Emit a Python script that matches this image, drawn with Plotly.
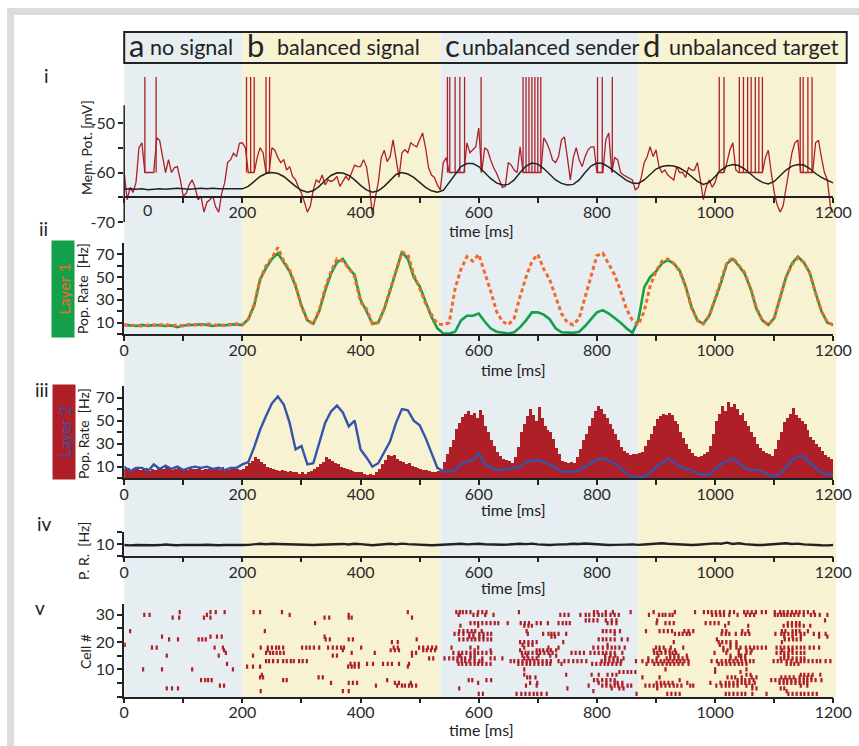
import plotly.graph_objects as go

W, H = 859, 746
FONT = "Lato, 'Open Sans', Arial, sans-serif"
INK = "#222222"
RED = "#ae1f28"
BLUE = "#3553a8"
GREEN = "#13a04b"
ORANGE = "#f2692a"
PALE_BLUE = "#e7eef2"
PALE_YELLOW = "#f7f2d2"
FRAME_GRAY = "#dcdcde"

# ---------------------------------------------------------------- data
region_letters = ["a", "b", "c", "d"]
region_titles = ["no signal", "balanced signal", "unbalanced sender", "unbalanced target"]
region_edges_ms = [0, 200, 535, 870, 1205]
region_colors = [PALE_BLUE, PALE_YELLOW, PALE_BLUE, PALE_YELLOW]

x_ticks = [0, 200, 400, 600, 800, 1000, 1200]
mem_ticks = [-70, -60, -50]

t_fine = [5 * i for i in range(241)]      # 5 ms sampling grid
t_coarse = [10 * i for i in range(121)]   # 10 ms sampling grid
hist_bin_ms = 5

# (i) membrane potential of one cell [mV], 5 ms samples
mem_pot = [
    -60, -65.5, -63, -64, -62, -55, -54, -60, -60, -60,
    -60, -53, -53.5, -56.8, -60, -57.4, -60, -59, -58.8, -61.5,
    -64.8, -64.2, -62.5, -61.5, -63, -65.5, -64.8, -68, -66, -65.5,
    -64.8, -67, -68, -64.2, -62.1, -58, -57.4, -56.1, -56.8, -54.1,
    -54, -55, -60, -60, -60, -57, -55, -56, -60, -60,
    -55, -55.5, -57, -58, -57.4, -59.5, -58.8, -60.8, -61.5, -63,
    -64.2, -66, -68, -66.8, -63.5, -61.5, -62, -60.5, -62.5, -61.5,
    -61.8, -61.5, -60.8, -62.8, -61.8, -60.8, -61.5, -60.1, -58.5, -58.8,
    -58.8, -57.4, -58.8, -62.8, -68.5, -65, -62, -57, -55.5, -57.8,
    -56.8, -53.4, -57.4, -61, -56, -55.4, -56, -54, -54.5, -54.8,
    -53.4, -52, -55, -59, -60.5, -61, -62.5, -63.5, -58, -57,
    -60, -60, -60, -60, -60, -60, -54, -56, -55.4, -54.8,
    -51, -60, -55, -55.5, -57.4, -59, -60.1, -61.5, -63, -62.8,
    -58, -58.5, -59.5, -60, -54.8, -60, -60, -60, -60, -60,
    -60, -60, -53, -54, -55.5, -57.5, -58, -56.8, -53.4, -52.8,
    -57, -61.5, -57, -55, -57.5, -58.8, -56.8, -55.4, -54.8, -54.8,
    -60, -60, -60, -53.4, -52, -60, -57, -57.4, -60, -60.5,
    -60.8, -61.2, -61.5, -63.5, -63, -61, -58, -56.8, -54.8, -56.8,
    -55.4, -58.8, -60, -59.5, -60.5, -61, -61.5, -58.8, -60, -60,
    -61, -59, -59.5, -59.5, -58, -61.5, -65.5, -62.8, -61.5, -63,
    -62, -60, -60, -60, -58, -55.4, -54, -59.5, -60, -60,
    -60, -60, -60, -60, -60, -60, -60, -57, -55.5, -60,
    -64, -66.5, -68, -66.8, -63, -60, -56, -54, -53.4, -60,
    -60, -60, -60, -60, -54, -53.5, -57, -60, -61.5, -66.8,
    -68.2,
]
spike_times = [35, 54, 207, 214, 220, 240, 246,
               547, 551, 560, 568, 576, 604, 675, 680, 685, 690, 695, 700, 705,
               801, 809, 826,
               1007, 1015, 1041, 1048, 1055, 1061, 1068, 1074, 1080,
               1144, 1149, 1157, 1164]
spike_base_mV = -60
spike_peak_mV = -40.7

# (i) input signal (black), 10 ms samples
mem_pot_signal = [
    -63.4, -63.3, -63.4, -63.3, -63.5, -63.4, -63.3, -63.4, -63.3, -63.2,
    -63.3, -63.4, -63.3, -63.2, -63.3, -63.2, -63.3, -63.3, -63.2, -63.3, -63.3,
    -62.8, -61.8, -60.8, -60.2, -60, -60.2, -60.8, -61.8, -62.8, -63.6,
    -64, -63.7, -62.8, -61.6, -60.6, -60.05, -60.1, -60.6, -61.5, -62.6,
    -63.5, -64, -63.7, -62.8, -61.5, -60.4, -60, -60.3, -61, -62,
    -63, -63.7, -64,
    -63.6, -62, -60.2, -58.8, -58.2, -58.2, -58.8, -60, -61.2, -62.1,
    -62.5, -62.4, -61.5, -60, -58.7, -58.1, -58.3, -59.2, -60.4, -61.5,
    -62.2, -62.5, -62.4, -61.5, -60, -58.7, -58.1, -58.2, -58.9, -59.8,
    -60.8, -61.6, -62.1, -62.2,
    -61.5, -60.3, -59.3, -58.8, -58.6, -58.7, -59.1, -59.8, -60.8, -61.8,
    -62.4, -62, -60.8, -59.5, -58.7, -58.4, -58.6, -59.3, -60.3, -61.3,
    -62, -62.3, -61.8, -60.7, -59.5, -58.7, -58.4, -58.5, -59.2, -60.2,
    -61, -61.6, -62.1,
]

# (ii) layer 1 population rates [Hz], 10 ms samples
l1_rate_green = [
    8, 7.5, 7, 8, 7, 8, 7.5, 7, 7.5, 6, 7.5, 8, 8, 8.5, 8, 7, 8, 7.5, 8.5, 8, 8,
    13, 25, 48, 58, 66, 71, 63, 55, 42, 25, 12, 9, 20, 38, 53, 63, 66, 58, 52, 30,
    20, 9, 10, 22, 38, 55, 72, 66, 50, 42, 28, 15, 5,
    0.5, 0.5, 2, 12, 16, 16, 18, 11, 5, 2, 1, 0.5, 1.5, 6, 12, 19, 19, 17, 13, 5,
    1.5, 1, 1, 2, 7, 13, 19, 21, 18, 14, 10, 5, 1, 12,
    41, 50, 55, 62, 65, 62, 56, 42, 24, 12, 9, 16, 30, 45, 62, 66, 60, 53, 40, 22,
    12, 8, 14, 32, 50, 62, 68, 63, 54, 36, 20, 10, 8,
]
l1_rate_orange = [
    8, 8, 7.5, 7, 8, 7.5, 8, 8.5, 7, 8, 7, 8.5, 8, 8, 9, 8.5, 7.5, 8, 8, 9, 8,
    13, 26, 48, 60, 67, 76, 64, 56, 43, 24, 12, 9, 21, 40, 55, 66, 64, 58, 50, 28,
    22, 9, 10, 22, 39, 56, 72, 70, 52, 40, 27, 17, 9,
    8, 10, 40, 57, 68, 64, 70, 55, 38, 20, 11, 8, 14, 33, 50, 64, 70, 57, 48, 33,
    18, 10, 8, 14, 33, 52, 69, 71, 62, 52, 38, 22, 12, 8,
    20, 42, 55, 64, 66, 62, 55, 42, 23, 12, 9, 16, 31, 46, 63, 67, 60, 54, 40, 23,
    12, 8, 14, 32, 50, 61, 67, 63, 54, 36, 20, 10, 8,
]

# (iii) layer 2 population rates [Hz]
l2_rate_blue = [
    10, 6, 9, 9, 6, 12, 8, 11, 8, 10, 7, 9, 10, 9, 10, 8, 9, 7, 9, 9, 12,
    14, 27, 42, 54, 65, 71, 64, 48, 25, 28, 12, 13, 30, 48, 58, 63, 57, 45, 50, 25,
    18, 10, 13, 22, 32, 48, 60, 59, 50, 46, 35, 22,
    9, 6, 5.7, 7, 12, 15, 15, 22, 12, 10, 7, 7, 8, 9, 10, 14, 15, 16, 14, 12,
    9, 6, 5.7, 5.7, 7, 10, 13, 16, 17, 15, 13, 9, 4, 1, 0.5,
    1.5, 4, 10, 13, 17, 14, 10, 8, 7, 4, 3, 3, 8, 12, 15, 17, 13, 9, 7, 7,
    6, 3, 1.5, 4, 9, 16, 19, 19, 14, 9, 5, 3, 3,
]
l2_rate_hist = [
    8, 9, 7, 8, 10, 7, 8, 9, 6, 8,
    7, 9, 8, 8, 10, 9, 7, 8, 9, 8,
    8, 7, 9, 8, 8, 9, 7, 8, 8, 9,
    8, 9, 7, 10, 8, 7, 8, 9, 8, 7,
    8, 11, 13, 15, 18, 17, 14, 12, 10, 9,
    8, 7, 6, 7, 6, 5, 6, 5, 5, 4,
    5, 4, 5, 6, 8, 10, 12, 14, 18, 17,
    15, 13, 12, 10, 9, 8, 7, 6, 5, 5,
    5, 4, 3, 4, 3, 5, 8, 12, 16, 20,
    19, 20, 17, 15, 14, 12, 13, 11, 10, 9,
    8, 7, 7, 6, 5, 5, 6, 7, 14, 21,
    27, 33, 43, 48, 53, 56, 58, 55, 57, 52,
    59, 55, 45, 40, 33, 28, 23, 19, 17, 16,
    15, 13, 18, 27, 40, 47, 54, 60, 55, 50,
    62, 52, 45, 42, 40, 34, 26, 21, 15, 14,
    13, 14, 13, 18, 25, 33, 38, 45, 52, 58,
    63, 60, 56, 52, 47, 43, 38, 33, 27, 24,
    22, 20, 21, 21, 22, 23, 28, 33, 38, 45,
    51, 54, 56, 55, 57, 55, 50, 47, 40, 35,
    30, 25, 22, 19, 18, 19, 21, 23, 28, 38,
    50, 56, 63, 58, 66, 62, 64, 60, 55, 57,
    50, 45, 40, 36, 30, 26, 24, 22, 21, 19,
    25, 33, 40, 49, 52, 56, 61, 55, 52, 50,
    47, 42, 36, 33, 30, 27, 24, 20, 18, 17,
]

# (iv) control population rate [Hz], 10 ms samples
ctrl_rate = [
    9.4, 9, 9.3, 9.1, 9.5, 9.2, 9.3, 9.8, 9.4, 9.1, 9.5, 9.3, 9.2, 9.4, 9.6, 9.3, 9.1, 9.4, 9.2, 9.0, 9.3,
    9.5, 10.2, 10.4, 10, 10.5, 10.3, 10.1, 10.4, 9.8, 9.5, 9.2, 9.4, 9.6, 9.9, 10.1, 10, 10.3,
    9.8, 10.5, 10.1, 9.4, 9.1, 9.6, 10.2, 10.4, 9.9, 10.6, 10.1, 9.8, 9.5, 9.6, 9.2, 9.4,
    9.6, 9.8, 10.1, 10.4, 9.9, 10.2, 10.5, 10, 9.7, 9.4, 9.6, 9.8, 10.3, 10.5, 10.1, 10.6, 9.9,
    9.5, 9.4, 9.7, 9.6, 10, 10.4, 10.2, 10.7, 10.3, 9.8, 9.6, 9.3, 9.5, 9.4, 9.7, 9.9, 9.5,
    9.8, 10.2, 10.5, 10.9, 10.4, 10, 9.6, 9.4, 9.3, 9.6, 10, 10.3, 10.8, 10.5, 11.4, 10.2, 10.9,
    10.1, 9.6, 9.4, 9.3, 9.7, 10.1, 10.5, 10.9, 10.3, 10.6, 9.9, 9.5, 9.3, 9.1, 9.0, 9.3,
]

# (v) raster: spike times [ms] per cell
raster_cells = [31, 30, 29, 28, 27, 26, 24, 23, 22, 21, 20, 19, 18, 17, 16, 15, 14, 13, 12, 11,
                10, 9, 8, 7, 6, 5, 4, 3, 2, 1]
raster_times = [
    [94, 146, 155, 170, 219, 230, 267, 480, 562, 568, 573, 579, 586, 599, 606, 613, 668, 795, 801, 815,
     827, 857, 896, 932, 966, 981, 988, 994, 1001, 1008, 1015, 1025, 1032, 1049, 1055, 1062, 1069,
     1079, 1086, 1101, 1110, 1116, 1123, 1130, 1137, 1143, 1150, 1157, 1167],
    [34, 43, 140, 280, 380, 566, 591, 598, 611, 625, 738, 745, 752, 772, 781, 787, 795, 803, 809, 815,
     823, 830, 837, 888, 905, 911, 916, 923, 928, 995, 1002, 1009, 1015, 1024, 1038, 1052, 1059, 1066,
     1101, 1106, 1112, 1117, 1122, 1128, 1134, 1141, 1150, 1162, 1169, 1177, 1190],
    [82, 93, 135, 146, 339, 347, 380, 385, 487],
    [781, 787, 794, 801, 815, 825, 833, 902, 1186],
    [323, 586, 593, 599, 606, 613, 620, 627, 633, 649, 671, 678, 685, 698, 705, 717, 735, 742, 748, 754,
     818, 825, 833, 901, 916, 923, 930, 984, 992, 999, 1006, 1023, 1123, 1130, 1137, 1143],
    [569, 599, 677, 684, 690, 1017, 1056, 1116, 1123, 1130, 1137, 1143, 1150, 1161],
    [10, 238, 567, 574, 581, 588, 594, 605, 681, 810, 816, 823, 830, 839, 883, 906, 913, 920, 927, 948,
     955, 963, 1012, 1019, 1046, 1056, 1113, 1119, 1131, 1137, 1143, 1157],
    [559, 566, 574, 584, 591, 601, 608, 615, 621, 683, 709, 718, 723, 728, 735, 748, 830, 932, 939, 945,
     952, 957, 1011, 1018, 1024, 1035, 1045, 1051, 1058, 1102, 1112, 1117, 1124, 1131, 1137, 1145,
     1151, 1167, 1176, 1187],
    [64, 146, 157, 165, 339, 584, 591, 601, 608, 723, 729, 1117, 1131, 1145, 1176, 1190],
    [76, 91, 126, 132, 138, 341, 348, 380, 387, 495, 567, 574, 581, 588, 594, 601, 608, 615, 621, 803,
     810, 816, 823, 830, 842, 852, 1003, 1118, 1125, 1132, 1138, 1145],
    [453, 463, 670, 677, 684, 691, 698, 743, 930, 1006, 1012, 1019, 1026, 1036, 1113],
    [1, 674, 684, 691, 818, 1008, 1026, 1036],
    [47, 55, 153, 167, 231, 243, 250, 257, 262, 269, 301, 308, 314, 321, 330, 345, 353, 360, 367, 372,
     401, 456, 463, 499, 506, 514, 521, 528, 554, 586, 599, 677, 718, 735, 794, 802, 810, 818, 825,
     831, 838, 847, 900, 906, 913, 925, 946, 1014, 1026, 1036, 1043, 1052, 1059, 1066, 1072, 1079,
     1086, 1104, 1111, 1117, 1124, 1131, 1138, 1145, 1151, 1160, 1167, 1176],
    [169, 243, 370, 451, 458, 465, 506, 512, 519, 526, 593, 620, 670, 698, 703, 709, 716, 722, 731, 896,
     906, 916, 923, 932, 1014, 1021, 1040, 1053, 1062, 1113, 1125, 1131],
    [172, 240, 247, 252, 258, 264, 270, 385, 424, 487, 494, 557, 566, 572, 579, 586, 593, 599, 606, 613,
     621, 673, 679, 684, 691, 698, 704, 711, 718, 725, 757, 764, 771, 778, 789, 796, 803, 810, 816,
     823, 830, 843, 897, 902, 909, 916, 923, 928, 934, 999, 1019, 1040, 1053, 1060, 1104, 1111, 1117,
     1124, 1131, 1138, 1145, 1151],
    [72, 160, 218, 353, 360, 487, 566, 569, 586, 593, 674, 682, 701, 721, 731, 814, 823, 831, 904, 924,
     931, 938, 952, 1026, 1040, 1044, 1051, 1117, 1124],
    [516, 523, 542, 550, 557, 564, 571, 577, 586, 593, 606, 620, 627, 640, 677, 684, 691, 698, 814, 821,
     828, 835, 845, 887, 901, 918, 924, 931, 938, 945, 953, 1026, 1035, 1044, 1051, 1111, 1117, 1124,
     1131, 1138, 1145, 1151],
    [240, 245, 252, 260, 269, 275, 282, 287, 296, 302, 309, 564, 571, 577, 584, 593, 601, 606, 654, 660,
     667, 674, 681, 687, 694, 701, 708, 715, 722, 735, 745, 752, 760, 767, 774, 782, 808, 814, 821,
     828, 835, 841, 866, 877, 887, 894, 901, 908, 914, 921, 928, 935, 941, 948, 955, 994, 1003, 1011,
     1018, 1024, 1031, 1038, 1045, 1052, 1059, 1065, 1099, 1106, 1112, 1121, 1129, 1138, 1145, 1151,
     1158, 1165, 1172, 1178, 1187, 1195],
    [174, 383, 390, 397, 411, 421, 438, 446, 453, 465, 482, 566, 572, 579, 586, 593, 599, 606, 613, 620,
     667, 674, 681, 687, 694, 701, 708, 715, 721, 740, 792, 799, 806, 813, 819, 826, 833, 840, 884,
     897, 904, 911, 918, 924, 931, 938, 945, 955, 1006, 1012, 1019, 1026, 1033, 1040, 1046, 1053,
     1121, 1128, 1134, 1141],
    [208, 218, 230, 379, 385, 390, 397, 480],
    [32, 64, 115, 184, 677, 916, 1000, 1053],
    [838, 845, 852, 858, 865, 1000, 1043],
    [233, 677, 748, 791, 803, 818, 826, 833, 1053, 1060, 1145, 1151, 1158, 1165, 1178],
    [230, 235, 329, 336, 682, 687, 696, 877, 906, 1021, 1028, 1034, 1045, 1062, 1070, 1112, 1119, 1126,
     1133, 1143, 1150, 1156, 1163],
    [130, 137, 142, 148, 269, 275, 445, 583, 589, 613, 621, 795, 801, 809, 816, 823, 830, 940, 1038,
     1045, 1051, 1058, 1065, 1095, 1102, 1109, 1116, 1122, 1129, 1136, 1143, 1150, 1156, 1163, 1170,
     1180],
    [350, 380, 387, 394, 458, 465, 485, 599, 687, 699, 803, 816, 830, 835, 843, 901, 908, 914, 921, 928,
     953, 992, 1009, 1018, 1024, 1031, 1038, 1045, 1051, 1058, 1067, 1109, 1116, 1122, 1129, 1136,
     1143, 1150, 1156],
    [162, 169, 426, 462, 470, 475, 482, 487, 494, 680, 698, 786, 809, 816, 823, 830, 836, 843, 852, 858,
     882, 889, 896, 902, 909, 916, 923, 930, 936, 943, 958, 963, 1002, 1011, 1018, 1024, 1031, 1038,
     1053, 1063, 1145, 1156],
    [72, 81, 91, 567, 750, 825, 838, 845, 902, 1063, 1070, 1111, 1117],
    [231, 370, 380, 794, 1121],
    [600, 607, 664, 672, 679, 686, 693, 699, 706, 715, 867, 919, 926, 933, 940, 1018, 1024, 1031, 1038,
     1045, 1051, 1063, 1087, 1124, 1131, 1138, 1145, 1151, 1158, 1165, 1172],
]

# ---------------------------------------------------------------- geometry helpers (pixels -> paper)
X0_PX, X1_PX = 124.2, 833.3


def ms_px(ms):
    return X0_PX + (X1_PX - X0_PX) * ms / 1200.0


def pxx(v):
    return v / W


def pxy(v):
    return 1 - v / H


P = [(77, 222), (243, 334), (386, 478.2), (531.7, 555.7), (604, 696.5)]
x_dom = [pxx(X0_PX), pxx(X1_PX)]

fig = go.Figure()

# ---- panel i
spk_x, spk_y = [], []
for s in spike_times:
    spk_x += [s, s, None]
    spk_y += [spike_base_mV, spike_peak_mV, None]
fig.add_trace(go.Scatter(x=t_fine, y=mem_pot, mode="lines", line=dict(color=RED, width=1.3),
                         xaxis="x", yaxis="y", showlegend=False))
fig.add_trace(go.Scatter(x=spk_x, y=spk_y, mode="lines", line=dict(color=RED, width=1.3),
                         xaxis="x", yaxis="y", showlegend=False))
fig.add_trace(go.Scatter(x=t_coarse, y=mem_pot_signal, mode="lines", line=dict(color=INK, width=1.5),
                         xaxis="x", yaxis="y", showlegend=False))

# ---- panel ii
fig.add_trace(go.Scatter(x=t_coarse, y=l1_rate_green, mode="lines", line=dict(color=GREEN, width=2.6),
                         xaxis="x2", yaxis="y2", showlegend=False))
fig.add_trace(go.Scatter(x=t_coarse, y=l1_rate_orange, mode="lines",
                         line=dict(color=ORANGE, width=3, dash="4px,3px"),
                         xaxis="x2", yaxis="y2", showlegend=False))

# ---- panel iii
hist_x = [i * hist_bin_ms + hist_bin_ms / 2 for i in range(len(l2_rate_hist))]
fig.add_trace(go.Bar(x=hist_x, y=l2_rate_hist, width=hist_bin_ms, marker=dict(color=RED, line=dict(width=0)),
                     xaxis="x3", yaxis="y3", showlegend=False))
fig.add_trace(go.Scatter(x=t_coarse, y=l2_rate_blue, mode="lines", line=dict(color=BLUE, width=2.4),
                         xaxis="x3", yaxis="y3", showlegend=False))

# ---- panel iv
fig.add_trace(go.Scatter(x=t_coarse, y=ctrl_rate, mode="lines", line=dict(color=INK, width=2.4),
                         xaxis="x4", yaxis="y4", showlegend=False))

# ---- panel v
rx, ry = [], []
for c, times in zip(raster_cells, raster_times):
    rx += times
    ry += [c] * len(times)
fig.add_trace(go.Scatter(x=rx, y=ry, mode="markers",
                         marker=dict(symbol="line-ns", size=3, line=dict(width=2.2, color=RED)),
                         xaxis="x5", yaxis="y5", showlegend=False))

# ---------------------------------------------------------------- axes
tickfont = dict(family=FONT, size=16, color="#2a2a2a")
base = dict(showgrid=False, zeroline=False, linecolor=INK, linewidth=1.5, ticks="outside",
            ticklen=5, tickwidth=1.5, tickcolor=INK, tickfont=tickfont, fixedrange=True,
            automargin=False)
minor_x = dict(dtick=100, tick0=0, ticks="outside", ticklen=5, tickwidth=1.5, tickcolor=INK)

layout_axes = {}
for k in range(5):
    sfx = "" if k == 0 else str(k + 1)
    xa = dict(base, domain=x_dom, range=[0, 1200], tickvals=x_ticks,
              ticktext=[str(v) for v in x_ticks], minor=minor_x, showline=True,
              ticklabelstandoff=-4)
    if k == 0:
        xa.update(anchor="free", position=pxy(197),
                  ticktext=[""] + [str(v) for v in x_ticks[1:]])
    else:
        xa.update(anchor="y" + sfx)
    layout_axes["xaxis" + sfx] = xa


def minor_y(vals):
    return dict(tickvals=vals, ticks="outside", ticklen=5, tickwidth=1.5, tickcolor=INK)


layout_axes["yaxis"] = dict(base, domain=[pxy(222), pxy(77)], range=[-70, -40.7], anchor="x",
                            showline=False, tickvals=mem_ticks,
                            ticktext=["-" + str(abs(v)) for v in mem_ticks], minor=minor_y([-65, -55]))
layout_axes["yaxis2"] = dict(base, domain=[pxy(P[1][1]), pxy(P[1][0])], range=[0, 80], anchor="x2",
                             showline=True, tickvals=[10, 30, 50, 70], minor=minor_y([0, 20, 40, 60]))
layout_axes["yaxis3"] = dict(base, domain=[pxy(P[2][1]), pxy(P[2][0])], range=[0, 80], anchor="x3",
                             showline=True, tickvals=[10, 30, 50, 70], minor=minor_y([0, 20, 40, 60]))
layout_axes["yaxis4"] = dict(base, domain=[pxy(P[3][1]), pxy(P[3][0])], range=[0, 21], anchor="x4",
                             showline=True, tickvals=[10], minor=minor_y([0, 20.8]))
layout_axes["yaxis5"] = dict(base, domain=[pxy(P[4][1]), pxy(P[4][0])], range=[0, 34], anchor="x5",
                             showline=True, tickvals=[10, 20, 30], minor=minor_y([0, 5, 15, 25]))

# ---------------------------------------------------------------- shapes
shapes = []
shapes.append(dict(type="rect", xref="paper", yref="paper", x0=pxx(7), x1=1, y0=0, y1=pxy(8),
                   fillcolor=FRAME_GRAY, line=dict(width=0), layer="below"))
shapes.append(dict(type="rect", xref="paper", yref="paper", x0=pxx(14), x1=1, y0=0, y1=pxy(15),
                   fillcolor="white", line=dict(width=0), layer="below"))
HEAD_TOP, HEAD_BOT, SHADE_BOT, HEAD_RIGHT = 32, 63, 697, 846.7
for i in range(4):
    x0 = ms_px(region_edges_ms[i])
    x1 = ms_px(region_edges_ms[i + 1])
    shapes.append(dict(type="rect", xref="paper", yref="paper", x0=pxx(x0), x1=pxx(x1),
                       y0=pxy(SHADE_BOT), y1=pxy(HEAD_TOP), fillcolor=region_colors[i],
                       line=dict(width=0), layer="below"))
shapes.append(dict(type="rect", xref="paper", yref="paper", x0=pxx(ms_px(region_edges_ms[-1])),
                   x1=pxx(HEAD_RIGHT), y0=pxy(HEAD_BOT), y1=pxy(HEAD_TOP),
                   fillcolor=region_colors[-1], line=dict(width=0), layer="below"))
shapes.append(dict(type="rect", xref="paper", yref="paper", x0=pxx(X0_PX), x1=pxx(HEAD_RIGHT),
                   y0=pxy(HEAD_BOT), y1=pxy(HEAD_TOP), line=dict(width=2, color=INK), layer="above"))
shapes.append(dict(type="line", xref="paper", yref="y", x0=pxx(X0_PX), x1=pxx(X0_PX), y0=-70, y1=-46.4,
                   line=dict(width=1.5, color=INK), layer="above"))

# ---------------------------------------------------------------- annotations
ann = []
text_px = [148, 275, 460, 667]
for i in range(4):
    ann.append(dict(text=region_letters[i], x=pxx(ms_px(region_edges_ms[i]) + 3), y=pxy(45),
                    xref="paper", yref="paper", xanchor="left", yanchor="middle", showarrow=False,
                    font=dict(family=FONT, size=31, color=INK)))
    ann.append(dict(text=region_titles[i], x=pxx(text_px[i]), y=pxy(47),
                    xref="paper", yref="paper", xanchor="left", yanchor="middle", showarrow=False,
                    font=dict(family=FONT, size=21.5, color=INK)))

for txt, xx, yy in [("i", 46, 76), ("ii", 43, 228), ("iii", 42, 389), ("iv", 44, 523), ("v", 40, 607)]:
    ann.append(dict(text=txt, x=pxx(xx), y=pxy(yy), xref="paper", yref="paper", showarrow=False,
                    xanchor="center", yanchor="middle", font=dict(family=FONT, size=19, color=INK)))

for txt, xx, yy in [("Mem. Pot. [mV]", 86, 148), ("Pop. Rate\u00a0 [Hz]", 83, 289),
                    ("Pop. Rate\u00a0 [Hz]", 83, 434), ("P. R.\u00a0 [Hz]", 83, 551), ("Cell #", 85, 652)]:
    ann.append(dict(text=txt, x=pxx(xx), y=pxy(yy), xref="paper", yref="paper", showarrow=False,
                    textangle=-90, xanchor="center", yanchor="middle",
                    font=dict(family=FONT, size=14, color=INK)))

ann.append(dict(text="Layer 1", x=pxx(63), y=pxy(289), xref="paper", yref="paper", showarrow=False,
                textangle=-90, width=94, height=20, bgcolor=GREEN, valign="middle",
                xanchor="center", yanchor="middle",
                font=dict(family=FONT, size=16, color=ORANGE)))
ann.append(dict(text="Layer 2", x=pxx(64), y=pxy(432), xref="paper", yref="paper", showarrow=False,
                textangle=-90, width=92, height=20, bgcolor=RED, valign="middle",
                xanchor="center", yanchor="middle",
                font=dict(family=FONT, size=16, color=BLUE)))

for xx, yy in [(481, 230), (513, 369), (513, 509), (513, 587), (481, 729)]:
    ann.append(dict(text="time [ms]", x=pxx(xx), y=pxy(yy), xref="paper", yref="paper", showarrow=False,
                    xanchor="center", yanchor="middle", font=dict(family=FONT, size=16, color=INK)))

ann.append(dict(text="0", x=40, y=pxy(210), xref="x", yref="paper", showarrow=False,
                xanchor="center", yanchor="middle", font=tickfont))

fig.update_layout(width=W, height=H, autosize=False,
                  margin=dict(l=0, r=0, t=0, b=0, pad=0, autoexpand=False),
                  paper_bgcolor="white", plot_bgcolor="rgba(0,0,0,0)", bargap=0,
                  font=dict(family=FONT, color=INK), shapes=shapes, annotations=ann, **layout_axes)

fig.write_html("out.html", config={"displayModeBar": False, "responsive": False},
               post_script="document.body.style.margin='0px';document.body.style.overflow='hidden';")
